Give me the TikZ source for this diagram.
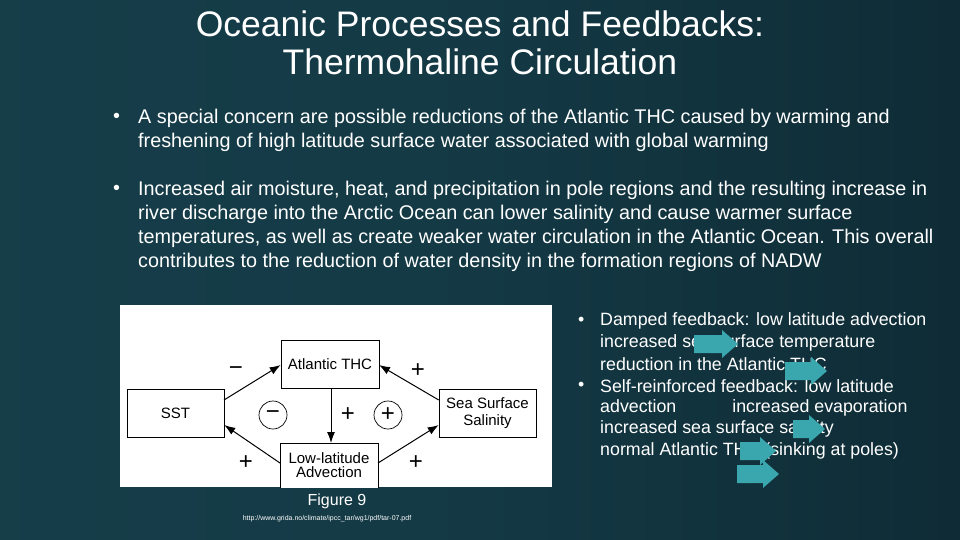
\documentclass[tikz,border=0pt]{standalone}
\usepackage{fontspec}
\setmainfont{Liberation Sans}
\usetikzlibrary{arrows.meta}
\definecolor{bgL}{HTML}{4A8C98}
\definecolor{bgM}{HTML}{16404C}
\definecolor{bgR}{HTML}{0A1E27}
\definecolor{tealar}{HTML}{3AA6AE}
\pgfdeclarehorizontalshading{bgsh}{100bp}{color(0bp)=(bgL); color(12bp)=(bgM); color(50bp)=(bgM!80!bgR); color(100bp)=(bgR)}
\newcommand{\blockarr}[4]{% name, x, y, length
  \fill[tealar] (#2,#3-9) -- (#2+#4-16,#3-9) -- (#2+#4-16,#3-14) -- (#2+#4,#3) -- (#2+#4-16,#3+14) -- (#2+#4-16,#3+9) -- (#2,#3+9) -- cycle;
  \coordinate (#1) at (#2,#3);}
\begin{document}
\begin{tikzpicture}[x=1pt,y=-1pt,
  txt/.style={text=white,anchor=west,inner sep=0pt,font=\fontsize{19.8}{20}\selectfont},
  rtxt/.style={text=white,anchor=west,inner sep=0pt,font=\fontsize{17.8}{18}\selectfont},
  fbox/.style={draw=black,line width=0.6pt,fill=white,align=center,font=\fontsize{15}{17}\selectfont,inner sep=0pt},
  farr/.style={-{Latex[length=11pt,width=8pt]},line width=1pt},
  sgn/.style={font=\fontsize{24}{24}\selectfont,inner sep=0pt}]
\useasboundingbox (0,0) rectangle (960,540);
\shade[shading=bgsh] (0,0) rectangle (960,540);
% title
\node[text=white,align=center,font=\fontsize{35.5}{38}\selectfont] (title) at (480,43) {Oceanic Processes and Feedbacks:\\Thermohaline Circulation};
% bullets
\node[txt] (b1) at (113,118) {\textbullet};
\node[txt] (l1) at (138,118) {A special concern are possible reductions of the Atlantic THC caused by warming and};
\node[txt] (l2) at (138,142) {freshening of high latitude surface water associated with global warming};
\node[txt] (b2) at (113,190) {\textbullet};
\node[txt] (l3) at (138,190) {Increased air moisture, heat, and precipitation in pole regions and the resulting increase in};
\node[txt] (l4) at (138,214) {river discharge into the Arctic Ocean can lower salinity and cause warmer surface};
\node[txt] (l5) at (138,238) {temperatures, as well as create weaker water circulation in the Atlantic Ocean. This overall};
\node[txt] (l6) at (138,262) {contributes to the reduction of water density in the formation regions of NADW};
% right text
\node[rtxt] (rb1) at (578,321) {\textbullet};
\node[rtxt] (r1) at (600,321) {Damped feedback: low latitude advection};
\node[rtxt] (r2) at (600,343) {increased sea surface temperature};
\node[rtxt] (r3) at (600,364) {reduction in the Atlantic THC};
\node[rtxt] (rb2) at (578,386) {\textbullet};
\node[rtxt] (r4) at (600,386) {Self-reinforced feedback: low latitude};
\node[rtxt] (r5) at (600,408) {advection \hspace{46pt} increased evaporation};
\node[rtxt] (r6) at (600,429) {increased sea surface salinity};
\node[rtxt] (r7) at (600,451) {normal Atlantic THC (sinking at poles)};
\blockarr{a1}{694}{344}{44}
\blockarr{a2}{785}{371}{42}
\blockarr{a3}{793}{429}{32}
\blockarr{a4}{740}{451}{36}
\blockarr{a5}{737}{474}{42}
% figure
\fill[white] (120,305) rectangle (552,487);
\node[fbox,minimum width=98pt,minimum height=48pt] (thc) at (330,364) {Atlantic THC};
\node[fbox,minimum width=97pt,minimum height=48pt] (sst) at (175.5,413) {SST};
\node[fbox,minimum width=97pt,minimum height=48pt] (sss) at (487.5,413) {Sea Surface\\Salinity};
\begin{scope}
\clip (120,305) rectangle (552,487);
\node[fbox,minimum width=98pt,minimum height=50pt,anchor=north] (low) at (329,443) {\raisebox{6pt}{\shortstack{Low-latitude\\Advection}}};
\end{scope}
\coordinate (lowN) at (331,443);
\draw[farr] (224,400) -- (thc.south west |- 0,365);
\draw[farr] (sss.west |- 0,400) -- (379,365);
\draw[farr] (thc.south -| 331,0) -- (lowN);
\draw[farr] (280,463) -- (sst.east |- 0,425);
\draw[farr] (378,463) -- (sss.west |- 0,425);
\node[draw,circle,line width=0.7pt,minimum size=28pt,inner sep=0pt,sgn] (cm) at (273,415) {−};
\node[draw,circle,line width=0.7pt,minimum size=28pt,inner sep=0pt,sgn] (cp) at (388,415) {+};
\node[sgn] (s1) at (236,371) {−};
\node[sgn] (s2) at (418,371) {+};
\node[sgn] (s3) at (348,415) {+};
\node[sgn] (s4) at (246,463) {+};
\node[sgn] (s5) at (416,463) {+};
\node[text=white,font=\fontsize{16}{16}\selectfont] (fig) at (337,501) {Figure 9};
\node[text=white,font=\fontsize{7}{7}\selectfont] (url) at (327,519) {http://www.grida.no/climate/ipcc\_tar/wg1/pdf/tar-07.pdf};
\end{tikzpicture}
\end{document}
